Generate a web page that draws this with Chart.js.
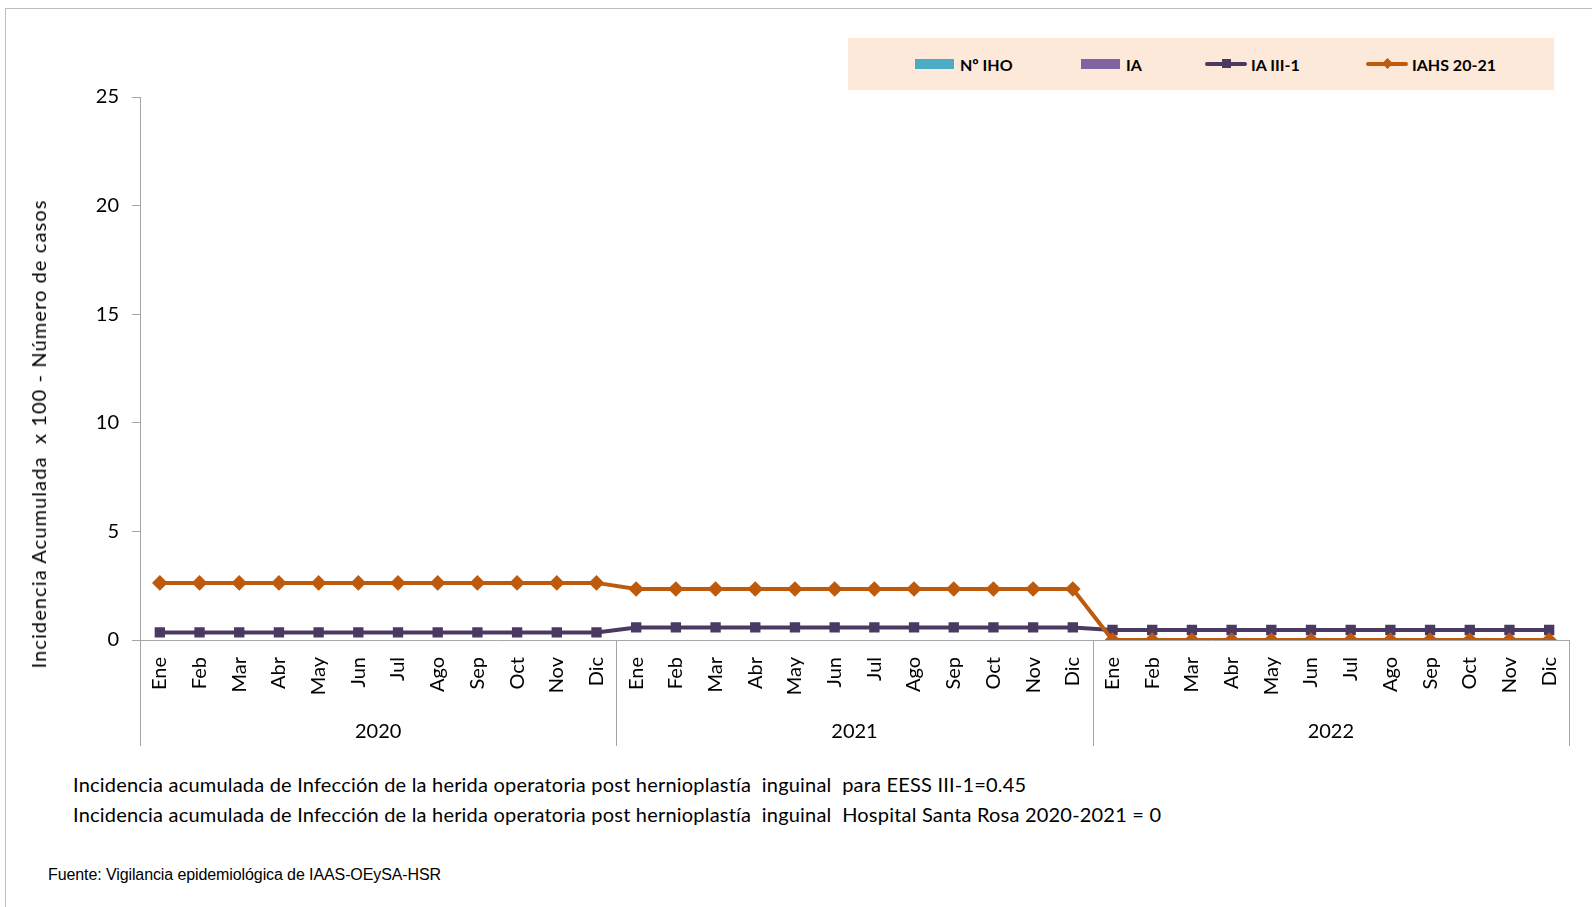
<!DOCTYPE html>
<html>
<head>
<meta charset="utf-8">
<script src="https://cdn.jsdelivr.net/npm/chart.js@4.4.0/dist/chart.umd.min.js"></script>
<style>
  html, body { margin: 0; padding: 0; background: #fff; }
  body { width: 1592px; height: 907px; position: relative; overflow: hidden; font-family: Lato, "Open Sans", sans-serif; color: #000; }
  #frame { position: absolute; left: 5px; top: 8px; width: 1600px; height: 920px; border-left: 1px solid #BDBDBD; border-top: 1px solid #BDBDBD; }
  #chart-box { position: absolute; left: 0; top: 0; width: 1592px; height: 760px; }
  #legend { position: absolute; left: 848px; top: 38px; width: 706px; height: 52px; background: #FDE9D9; }
  .leg-item { position: absolute; top: 0; height: 52px; display: flex; align-items: center; font-weight: bold; font-size: 16px; }
  .sw { display: inline-block; width: 39px; height: 10px; margin-right: 6px; }
  .ln { position: relative; display: inline-block; width: 42px; height: 4px; margin-right: 4px; border-radius: 2px; }
  .mk { position: absolute; left: 17px; top: -3px; width: 9px; height: 9px; }
  #ytitle { position: absolute; left: 38px; top: 434px; transform: translate(-50%, -50%) rotate(-90deg); white-space: pre; font-size: 20px; letter-spacing: 1.1px; }
  .note { position: absolute; left: 73px; font-size: 20px; letter-spacing: 0.2px; white-space: pre; }
  #fuente { position: absolute; left: 48px; top: 866px; font-size: 16px; letter-spacing: -0.1px; font-family: "Liberation Sans Narrow", "Liberation Sans", sans-serif; }
</style>
</head>
<body>
<div id="frame"></div>
<div id="chart-box"><canvas id="myChart"></canvas></div>
<div id="legend"></div>
<div id="ytitle">Incidencia Acumulada  x 100 - Número de casos</div>
<div class="note" id="note1" style="top:772px;"></div>
<div class="note" id="note2" style="top:802px;"></div>
<div id="fuente">Fuente: Vigilancia epidemiológica de IAAS-OEySA-HSR</div>

<script>
// ---- data ----
const months = ['Ene','Feb','Mar','Abr','May','Jun','Jul','Ago','Sep','Oct','Nov','Dic'];
const years = ['2020','2021','2022'];

const numIHO = [null,null,null,null,null,null,null,null,null,null,null,null,
                null,null,null,null,null,null,null,null,null,null,null,null,
                null,null,null,null,null,null,null,null,null,null,null,null];
const iaBars = [null,null,null,null,null,null,null,null,null,null,null,null,
                null,null,null,null,null,null,null,null,null,null,null,null,
                null,null,null,null,null,null,null,null,null,null,null,null];
const iaIII1 = [0.35,0.35,0.35,0.35,0.35,0.35,0.35,0.35,0.35,0.35,0.35,0.35,
                0.58,0.58,0.58,0.58,0.58,0.58,0.58,0.58,0.58,0.58,0.58,0.58,
                0.46,0.46,0.46,0.46,0.46,0.46,0.46,0.46,0.46,0.46,0.46,0.46];
const iahs = [2.63,2.63,2.63,2.63,2.63,2.63,2.63,2.63,2.63,2.63,2.63,2.63,
              2.35,2.35,2.35,2.35,2.35,2.35,2.35,2.35,2.35,2.35,2.35,2.35,
              0,0,0,0,0,0,0,0,0,0,0,0];

const yTicks = [0, 5, 10, 15, 20, 25];

const seriesNames = ['Nº IHO', 'IA', 'IA III-1', 'IAHS 20-21'];
const seriesColors = ['#4BACC6', '#8064A2', '#4A3A62', '#BE5A0C'];

const notes = [
  'Incidencia acumulada de Infección de la herida operatoria post hernioplastía  inguinal  para EESS III-1=0.45',
  'Incidencia acumulada de Infección de la herida operatoria post hernioplastía  inguinal  Hospital Santa Rosa 2020-2021 = 0'
];

// build labels
let labels = [];
for (var y = 0; y < years.length; y++) {
  for (var m = 0; m < months.length; m++) labels.push(months[m]);
}

document.getElementById('note1').textContent = notes[0];
document.getElementById('note2').textContent = notes[1];

/* ---------- legend (html) ---------- */
const legendLeft = [67, 233, 357, 518];
const legend = document.getElementById('legend');
for (var i = 0; i < seriesNames.length; i++) {
  const item = document.createElement('div');
  item.className = 'leg-item';
  item.style.left = legendLeft[i] + 'px';
  if (i < 2) {
    item.innerHTML = '<span class="sw" style="background:' + seriesColors[i] + '"></span>';
  } else {
    const mk = i == 2
      ? '<span class="mk" style="background:' + seriesColors[i] + '"></span>'
      : '<span class="mk" style="background:' + seriesColors[i] + ';transform:rotate(45deg) scale(0.85)"></span>';
    item.innerHTML = '<span class="ln" style="background:' + seriesColors[i] + '">' + mk + '</span>';
  }
  item.appendChild(document.createTextNode(seriesNames[i]));
  legend.appendChild(item);
}

/* ---------- year groups under the axis ---------- */
const yearGroups = {
  id: 'yearGroups',
  afterDraw(chart) {
    const ctx = chart.ctx;
    const xs = chart.scales.x;
    const top = chart.chartArea.bottom;
    const bottom = 746;
    const w = (xs.right - xs.left) / labels.length;
    ctx.save();
    ctx.strokeStyle = '#A6A6A6';
    ctx.lineWidth = 1;
    for (var g = 0; g <= years.length; g++) {
      const px = Math.round(xs.left + g * months.length * w) + 0.5;
      ctx.beginPath();
      ctx.moveTo(px, top);
      ctx.lineTo(px, bottom);
      ctx.stroke();
    }
    ctx.fillStyle = '#000';
    ctx.font = '20px Lato, "Open Sans", sans-serif';
    ctx.textAlign = 'center';
    ctx.textBaseline = 'middle';
    for (var g = 0; g < years.length; g++) {
      const cx = xs.left + (g + 0.5) * months.length * w;
      ctx.fillText(years[g], cx, 732);
    }
    ctx.restore();
  }
};

Chart.defaults.font.family = 'Lato, "Open Sans", sans-serif';
Chart.defaults.color = '#000';

const ctx = document.getElementById('myChart').getContext('2d');
const myChart = new Chart(ctx, {
  type: 'line',
  data: {
    labels: labels,
    datasets: [
      { type: 'bar', label: seriesNames[0], data: numIHO, backgroundColor: seriesColors[0], order: 3 },
      { type: 'bar', label: seriesNames[1], data: iaBars, backgroundColor: seriesColors[1], order: 2 },
      {
        label: seriesNames[2], data: iaIII1,
        borderColor: seriesColors[2], backgroundColor: seriesColors[2],
        borderWidth: 4, pointStyle: 'rect', pointRadius: 4.5, pointHoverRadius: 4.5,
        tension: 0, order: 1
      },
      {
        label: seriesNames[3], data: iahs,
        borderColor: seriesColors[3], backgroundColor: seriesColors[3],
        borderWidth: 4, pointStyle: 'rectRot', pointRadius: 5, pointHoverRadius: 5,
        tension: 0, order: 0
      }
    ]
  },
  options: {
    responsive: true,
    maintainAspectRatio: false,
    animation: false,
    layout: { padding: { left: 0, right: 23, top: 97, bottom: 0 } },
    plugins: {
      legend: { display: false },
      tooltip: { enabled: false }
    },
    scales: {
      x: {
        offset: true,
        grid: { display: false },
        border: { display: true, color: '#A6A6A6', width: 1 },
        ticks: {
          autoSkip: false, maxRotation: 90, minRotation: 90,
          padding: 9, font: { size: 20 }, color: '#000'
        },
        afterFit(scale) { scale.height = 120; }
      },
      y: {
        min: 0, max: 25,
        afterBuildTicks(scale) { scale.ticks = yTicks.map(v => ({ value: v })); },
        grid: { drawOnChartArea: false, drawTicks: true, tickLength: 8, color: '#A6A6A6' },
        border: { display: true, color: '#A6A6A6', width: 1 },
        ticks: { padding: 13, font: { size: 20 }, color: '#000' },
        afterFit(scale) { scale.width = 140; }
      }
    }
  },
  plugins: [yearGroups]
});
</script>
</body>
</html>
